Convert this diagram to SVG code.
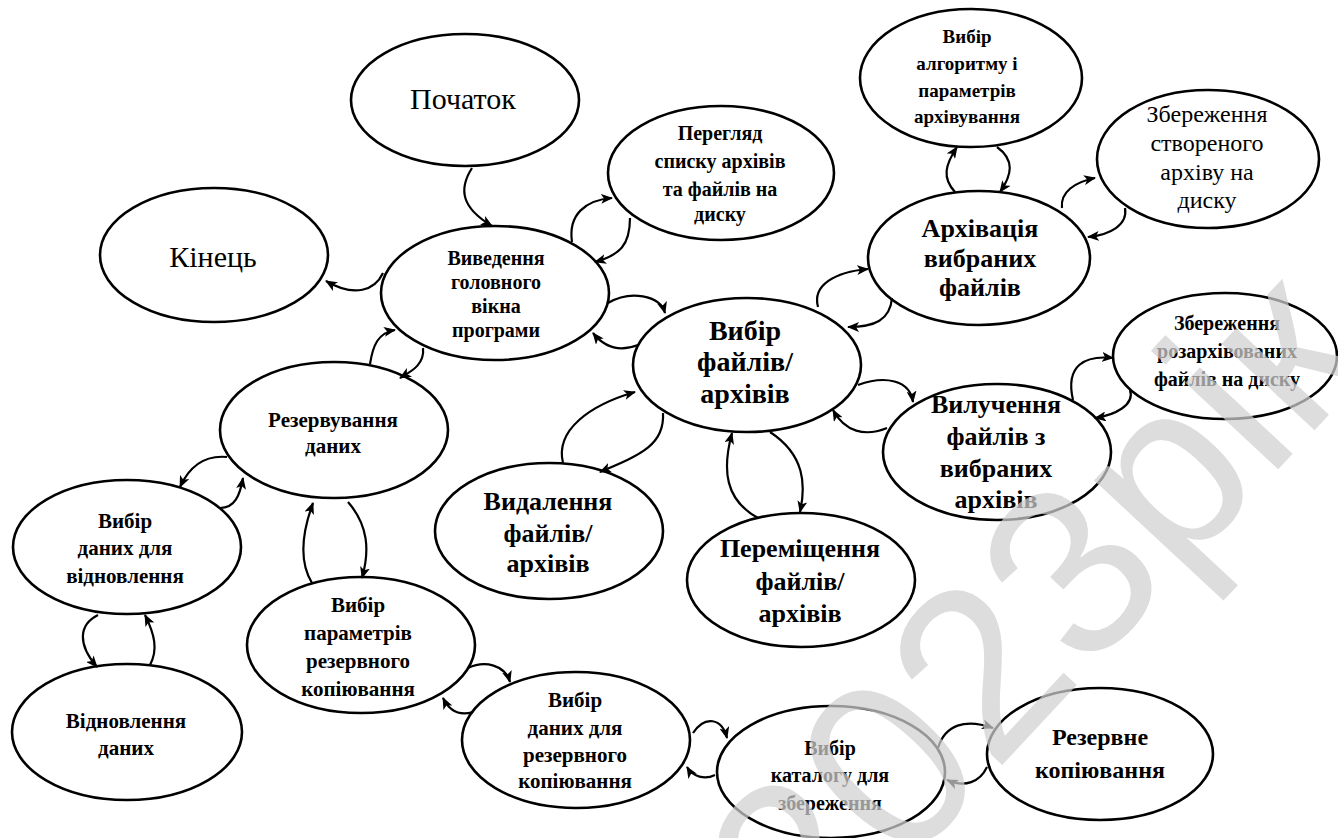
<svg xmlns="http://www.w3.org/2000/svg" width="1338" height="838" viewBox="0 0 1338 838">
<style>
.node ellipse{fill:#fff;stroke:#000;stroke-width:2.6}
.node text{font-weight:bold;fill:#000;text-anchor:middle}
.node text.reg{font-weight:normal}
.edges path{fill:none;stroke:#000;stroke-width:2.2}
.wm{font-size:240px;fill:#d0d0d0;opacity:0.72}
</style>
<defs>
<marker id="ah" markerUnits="userSpaceOnUse" viewBox="0 0 12 10" refX="11" refY="5" markerWidth="12" markerHeight="10" orient="auto">
<path d="M0,0 L12,5 L0,10 L3,5 z" fill="#000"/>
</marker>
</defs>
<rect width="1338" height="838" fill="#fff"/>

<g id="nodes" font-family="'Liberation Serif', Tinos, 'Times New Roman', 'DejaVu Serif', serif">
<g id="n-start" class="node"><ellipse cx="465" cy="100" rx="114" ry="66"/>
<text class="reg" x="463" y="109" font-size="30">Початок</text></g>

<g id="n-end" class="node"><ellipse cx="214" cy="255" rx="114" ry="67"/>
<text class="reg" x="213" y="267" font-size="30">Кінець</text></g>

<g id="n-main" class="node"><ellipse cx="495" cy="293" rx="114" ry="67"/>
<text font-size="20"><tspan x="496" y="265">Виведення</tspan><tspan x="496" y="289">головного</tspan><tspan x="496" y="313">вікна</tspan><tspan x="496" y="337">програми</tspan></text></g>

<g id="n-view" class="node"><ellipse cx="721" cy="173" rx="113" ry="67"/>
<text font-size="20"><tspan x="720" y="140">Перегляд</tspan><tspan x="720" y="168">списку архівів</tspan><tspan x="720" y="196">та файлів на</tspan><tspan x="720" y="221">диску</tspan></text></g>

<g id="n-algo" class="node"><ellipse cx="971" cy="78" rx="111" ry="69"/>
<text font-size="19"><tspan x="967" y="43">Вибір</tspan><tspan x="967" y="70">алгоритму і</tspan><tspan x="967" y="97">параметрів</tspan><tspan x="967" y="123">архівування</tspan></text></g>

<g id="n-savearch" class="node"><ellipse cx="1208" cy="159" rx="111" ry="69"/>
<text class="reg" font-size="24"><tspan x="1207" y="122">Збереження</tspan><tspan x="1207" y="151">створеного</tspan><tspan x="1207" y="180">архіву на</tspan><tspan x="1207" y="208">диску</tspan></text></g>

<g id="n-archive" class="node"><ellipse cx="979" cy="258" rx="111" ry="67"/>
<text font-size="26"><tspan x="980" y="237">Архівація</tspan><tspan x="980" y="267">вибраних</tspan><tspan x="980" y="296">файлів</tspan></text></g>

<g id="n-select" class="node"><ellipse cx="747" cy="365" rx="114" ry="67"/>
<text font-size="28"><tspan x="745" y="340">Вибір</tspan><tspan x="745" y="371">файлів/</tspan><tspan x="745" y="403">архівів</tspan></text></g>

<g id="n-saveext" class="node"><ellipse cx="1225" cy="356" rx="112" ry="63"/>
<text font-size="20"><tspan x="1227" y="330">Збереження</tspan><tspan x="1227" y="358">розархівованих</tspan><tspan x="1227" y="386">файлів на диску</tspan></text></g>

<g id="n-extract" class="node"><ellipse cx="997" cy="452" rx="114" ry="68"/>
<text font-size="26"><tspan x="996" y="413">Вилучення</tspan><tspan x="996" y="445">файлів з</tspan><tspan x="996" y="477">вибраних</tspan><tspan x="996" y="508">архівів</tspan></text></g>

<g id="n-backupdata" class="node"><ellipse cx="334" cy="430" rx="114" ry="68"/>
<text font-size="21"><tspan x="333" y="427">Резервування</tspan><tspan x="333" y="453">даних</tspan></text></g>

<g id="n-delete" class="node"><ellipse cx="549" cy="531" rx="114" ry="68"/>
<text font-size="26"><tspan x="548" y="510">Видалення</tspan><tspan x="548" y="542">файлів/</tspan><tspan x="548" y="572">архівів</tspan></text></g>

<g id="n-move" class="node"><ellipse cx="801" cy="580" rx="114" ry="67"/>
<text font-size="26"><tspan x="800" y="557">Переміщення</tspan><tspan x="800" y="590">файлів/</tspan><tspan x="800" y="622">архівів</tspan></text></g>

<g id="n-selrestore" class="node"><ellipse cx="127" cy="547" rx="114" ry="67"/>
<text font-size="21"><tspan x="125" y="528">Вибір</tspan><tspan x="125" y="555">даних для</tspan><tspan x="125" y="583">відновлення</tspan></text></g>

<g id="n-restore" class="node"><ellipse cx="127" cy="732" rx="115" ry="68"/>
<text font-size="21"><tspan x="126" y="728">Відновлення</tspan><tspan x="126" y="755">даних</tspan></text></g>

<g id="n-params" class="node"><ellipse cx="361" cy="645" rx="114" ry="68"/>
<text font-size="21"><tspan x="358" y="612">Вибір</tspan><tspan x="358" y="640">параметрів</tspan><tspan x="358" y="668">резервного</tspan><tspan x="358" y="696">копіювання</tspan></text></g>

<g id="n-seldata" class="node"><ellipse cx="576" cy="740" rx="114" ry="68"/>
<text font-size="21"><tspan x="575" y="707">Вибір</tspan><tspan x="575" y="735">даних для</tspan><tspan x="575" y="762">резервного</tspan><tspan x="575" y="788">копіювання</tspan></text></g>

<g id="n-catalog" class="node"><ellipse cx="831" cy="772" rx="114" ry="66"/>
<text font-size="20"><tspan x="830" y="755">Вибір</tspan><tspan x="830" y="782">каталогу для</tspan><tspan x="830" y="810">збереження</tspan></text></g>

<g id="n-backup" class="node"><ellipse cx="1100" cy="754" rx="113" ry="66"/>
<text font-size="24"><tspan x="1100" y="745">Резервне</tspan><tspan x="1100" y="778">копіювання</tspan></text></g>
</g>

<g id="connectors" class="edges" marker-end="url(#ah)">
<path d="M472,168 C458,190 462,208 492,226"/>
<path d="M383,273 C375,290 355,298 326,281"/>
<path d="M572,242 C568,215 585,200 612,198"/>
<path d="M630,218 C630,245 620,255 595,262"/>
<path d="M608,303 C630,290 660,295 665,313"/>
<path d="M638,345 C620,352 605,348 593,333"/>
<path d="M423,348 C425,365 410,372 400,378"/>
<path d="M370,364 C373,345 378,333 395,330"/>
<path d="M227,457 C205,455 190,465 180,487"/>
<path d="M220,508 C235,508 240,495 243,478"/>
<path d="M98,615 C78,625 78,645 97,667"/>
<path d="M150,665 C158,650 155,635 145,615"/>
<path d="M348,502 C368,525 370,550 362,578"/>
<path d="M312,583 C298,560 303,530 313,503"/>
<path d="M468,668 C485,660 505,665 510,682"/>
<path d="M473,712 C460,716 450,712 443,698"/>
<path d="M693,733 C705,715 722,718 727,738"/>
<path d="M715,775 C705,780 693,777 687,767"/>
<path d="M938,748 C945,725 965,718 993,728"/>
<path d="M987,767 C980,782 965,788 947,780"/>
<path d="M663,413 C665,445 640,455 600,472"/>
<path d="M563,463 C555,430 590,405 635,392"/>
<path d="M770,432 C805,455 806,485 800,512"/>
<path d="M758,518 C725,500 722,470 732,433"/>
<path d="M818,307 C812,285 835,272 868,269"/>
<path d="M892,298 C890,320 875,327 848,327"/>
<path d="M858,385 C885,375 910,380 913,402"/>
<path d="M887,428 C865,437 845,432 833,410"/>
<path d="M955,192 C942,178 945,165 957,147"/>
<path d="M997,147 C1015,160 1012,175 1000,192"/>
<path d="M1062,208 C1060,192 1075,182 1095,178"/>
<path d="M1125,208 C1128,225 1110,235 1088,237"/>
<path d="M1073,400 C1065,365 1085,355 1113,358"/>
<path d="M1130,390 C1135,405 1115,415 1095,418"/>
</g>

<text class="wm" font-family="'Liberation Sans', Arial, sans-serif" transform="translate(812,969) rotate(-47)">2023рік</text>
</svg>
